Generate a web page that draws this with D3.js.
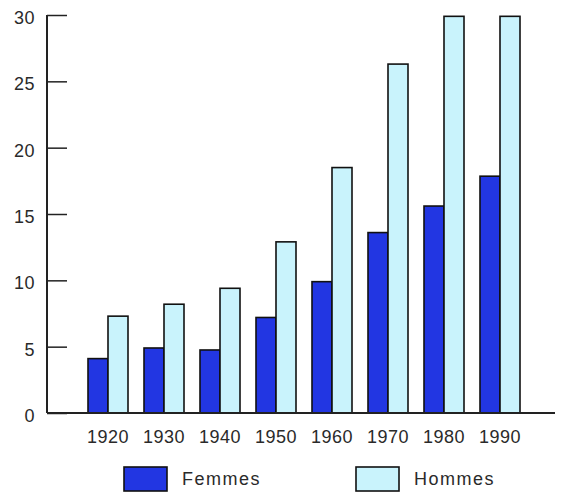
<!DOCTYPE html>
<html><head><meta charset="utf-8">
<script src="https://cdn.jsdelivr.net/npm/d3@7/dist/d3.min.js"></script>
<style>body{margin:0;background:#fff;}svg{display:block;}</style>
</head><body>
<svg id="c" width="574" height="495"></svg>
<script>
const years = ["1920","1930","1940","1950","1960","1970","1980","1990"];
const femmes = [4.1, 4.9, 4.75, 7.2, 9.9, 13.6, 15.6, 17.85];
const hommes = [7.3, 8.2, 9.4, 12.9, 18.5, 26.3, 29.9, 29.9];
const seriesNames = ["Femmes","Hommes"];
const yTicks = [0,5,10,15,20,25,30];

const svg = d3.select("#c");
const font = "Liberation Sans, Arial, sans-serif";
const x0 = 47, y0 = 413, yTop = 15;
const y = d3.scaleLinear().domain([0,30]).range([y0, yTop]);
const x = d3.scaleBand().domain(years).range([80, 528]).paddingInner(16/56).paddingOuter(8/56);
const xs = d3.scaleBand().domain(seriesNames).range([0, x.bandwidth()]);
const colors = {Femmes:"#2236e2", Hommes:"#c9f3fc"};

// bars
const data = years.map((yr,i)=>({yr, vals:[{s:"Femmes",v:femmes[i]},{s:"Hommes",v:hommes[i]}]}));
const g = svg.append("g");
g.selectAll("g.grp").data(data).join("g").attr("class","grp")
 .attr("transform", d=>`translate(${x(d.yr)},0)`)
 .selectAll("rect").data(d=>d.vals).join("rect")
 .attr("x", d=>xs(d.s)).attr("width", xs.bandwidth())
 .attr("y", d=>y(d.v)).attr("height", d=>y0 - y(d.v))
 .attr("fill", d=>colors[d.s]).attr("stroke","#111").attr("stroke-width",1.6);

// y axis
const yAxis = d3.axisRight(y).tickValues(yTicks).tickSize(20).tickFormat("");
const ya = svg.append("g").attr("transform",`translate(${x0},0)`).call(yAxis);
ya.select(".domain").remove();
ya.selectAll(".tick line").attr("stroke","#222").attr("stroke-width",1.5);
svg.append("line").attr("x1",x0).attr("x2",x0).attr("y1",yTop).attr("y2",y0).attr("stroke","#222").attr("stroke-width",2);
svg.selectAll("text.yl").data(yTicks).join("text").attr("class","yl")
 .attr("x",35).attr("y",d=>y(d)+9).attr("text-anchor","end")
 .attr("font-family",font).attr("font-size",18).attr("fill","#2a2a2a")
 .attr("letter-spacing","0.5px")
 .text(d=>d);

// x axis
svg.append("line").attr("x1",x0).attr("x2",555).attr("y1",y0).attr("y2",y0).attr("stroke","#222").attr("stroke-width",2);
const xAxis = d3.axisBottom(x).tickSize(0).tickPadding(0);
const xa = svg.append("g").attr("transform",`translate(0,${y0})`).call(xAxis);
xa.select(".domain").remove();
xa.selectAll("text").attr("y",30).attr("dy",0)
 .attr("font-family",font).attr("font-size",18).attr("fill","#2a2a2a")
 .attr("letter-spacing","0.5px");

// legend
const leg = [{s:"Femmes", x:124, tx:182},{s:"Hommes", x:356, tx:414}];
leg.forEach(l=>{
  svg.append("rect").attr("x",l.x).attr("y",467).attr("width",43).attr("height",24)
   .attr("fill",colors[l.s]).attr("stroke","#111").attr("stroke-width",1.6);
  svg.append("text").attr("x",l.tx).attr("y",485).attr("font-family",font)
   .attr("font-size",18).attr("fill","#2a2a2a").attr("letter-spacing","1.5px").text(l.s);
});
</script>
</body></html>
